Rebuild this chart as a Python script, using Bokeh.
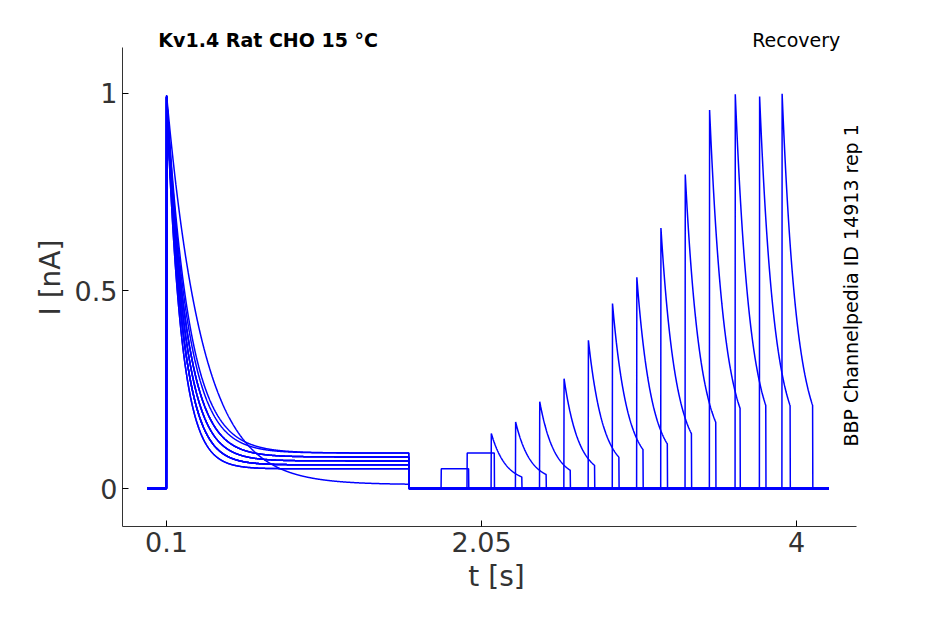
import numpy as np
from bokeh.plotting import figure
from bokeh.models import Label, FixedTicker
from bokeh.embed import file_html
from bokeh.resources import INLINE

# second-pulse onset times (s) and peak amplitudes (nA) per sweep
t2 = [1.80, 1.96, 2.11, 2.26, 2.41, 2.56, 2.71, 2.86, 3.01, 3.16, 3.31, 3.46, 3.62, 3.77, 3.91]
amp2 = [0.05, 0.09, 0.14, 0.17, 0.22, 0.28, 0.38, 0.47, 0.54, 0.66, 0.80, 0.97, 1.00, 1.00, 1.00]
# first-pulse decay constants (s) and steady levels (nA)
tau1 = [0.10, 0.12, 0.09, 0.11, 0.13, 0.10, 0.12, 0.09, 0.11, 0.14, 0.10, 0.12, 0.11, 0.22, 0.10]
ss1 = [0.06, 0.08, 0.05, 0.07, 0.09, 0.06, 0.08, 0.05, 0.07, 0.09, 0.06, 0.08, 0.07, 0.01, 0.06]
pulse1 = (0.1, 1.6)
dur2 = 0.19
xticks = [0.1, 2.05, 4]
yticks = [0, 0.5, 1]

FONT = "DejaVu Sans"
p = figure(width=930, height=610, output_backend="svg", toolbar_location=None,
           x_range=(-0.172, 4.457), y_range=(-0.096, 1.164),
           min_border_left=122, min_border_top=28, min_border_right=60, min_border_bottom=84)
p.xgrid.visible = False
p.ygrid.visible = False
p.outline_line_color = None

for i in range(len(t2)):
    t = np.linspace(-0.02, 4.2, 3000)
    y = np.zeros_like(t)
    m1 = (t >= pulse1[0]) & (t < pulse1[1])
    y[m1] = ss1[i] + (1 - ss1[i]) * np.exp(-(t[m1] - pulse1[0]) / tau1[i])
    a = amp2[i]
    dur = dur2 if a > 0.1 else 0.17
    m2 = (t >= t2[i]) & (t < t2[i] + dur)
    tt = t[m2] - t2[i]
    y[m2] = a * (0.1 + 0.9 * np.exp(-tt / 0.09)) if a > 0.1 else a
    p.line(t, y, line_color="#0000ff", line_width=1.5)

ax = dict(axis_label_text_font_size="28px", major_label_text_font_size="27px",
          axis_label_text_font_style="normal", axis_line_color="#333333",
          axis_label_text_font=FONT, major_label_text_font=FONT,
          major_tick_in=6, major_tick_out=0, minor_tick_line_color=None,
          axis_label_text_color="#333333", major_label_text_color="#333333")
for axis in (p.xaxis[0], p.yaxis[0]):
    for k, v in ax.items():
        setattr(axis, k, v)
p.xaxis.ticker = FixedTicker(ticks=xticks)
p.yaxis.ticker = FixedTicker(ticks=yticks)
p.xaxis.bounds = (-0.172, 4.37)
p.yaxis.bounds = (-0.096, 1.116)
p.xaxis.axis_label = "t [s]"
p.yaxis.axis_label = "I [nA]"

p.add_layout(Label(x=0.05, y=1.134, text="Kv1.4  Rat  CHO  15 °C", text_font_size="19px",
                   text_font=FONT, text_font_style="bold", text_baseline="middle", text_color="black"))
p.add_layout(Label(x=4.27, y=1.134, text="Recovery", text_font_size="19px", text_font=FONT,
                   text_align="right", text_baseline="middle", text_color="black"))
p.add_layout(Label(x=4.335, y=0.514, text="BBP Channelpedia ID 14913 rep 1", text_font_size="19px",
                   text_font=FONT, text_align="center", text_baseline="middle",
                   angle=np.pi / 2, text_color="black"))

open("out.html", "w").write(file_html(p, INLINE))
